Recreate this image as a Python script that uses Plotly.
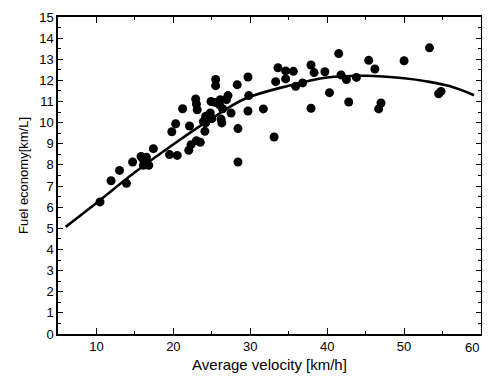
import plotly.graph_objects as go

velocity = [10.46, 11.9, 13.0, 13.9, 14.7, 15.8, 16.1, 16.5, 16.8, 17.4,
            19.5, 20.5, 19.8, 20.3, 21.2, 22.1, 22.0, 22.3, 23.0, 23.5,
            22.9, 23.0, 23.1, 24.1, 24.2, 24.8, 25.0, 24.9, 25.4, 25.5,
            25.5, 26.1, 26.2, 26.3, 26.4, 27.1, 26.9, 27.5, 28.3, 28.4,
            28.4, 29.7, 29.8, 29.7, 31.7, 33.1, 33.3, 33.6, 34.6, 34.6,
            35.6, 35.9, 36.8, 37.9, 38.3, 37.9, 39.7, 40.3, 41.5, 41.8,
            42.5, 42.8, 43.8, 45.4, 46.2, 46.7, 47.0, 50.0, 53.3, 54.5,
            54.8, 26.0, 24.2, 23.9, 16.0]
economy = [6.25, 7.25, 7.74, 7.13, 8.14, 8.4, 7.98, 8.36, 7.98, 8.77,
           8.49, 8.45, 9.57, 9.95, 10.66, 9.84, 8.69, 8.96, 9.15, 9.07,
           11.12, 10.88, 10.61, 9.59, 9.99, 10.46, 10.19, 11.0, 10.96, 12.04,
           11.75, 11.09, 10.17, 9.99, 10.66, 11.28, 11.09, 10.46, 11.8, 9.72,
           8.14, 12.16, 11.28, 10.55, 10.65, 9.32, 11.94, 12.6, 12.07, 12.45,
           12.43, 11.72, 11.88, 12.73, 12.37, 10.68, 12.41, 11.42, 13.27, 12.26,
           12.04, 10.98, 12.14, 12.95, 12.54, 10.65, 10.93, 12.93, 13.54, 11.37,
           11.48, 10.85, 10.3, 10.05, 8.3]

fit_x = [6.0, 10.0, 15.0, 20.3, 25.0, 29.3, 35.0, 40.0, 45.0, 50.0, 53.0, 56.0, 59.1]
fit_y = [5.07, 6.2, 7.65, 9.05, 10.2, 11.13, 11.75, 12.14, 12.22, 12.1, 11.95, 11.72, 11.3]

x_ticks = [10, 20, 30, 40, 50, 60]
x_ticklabels = ["10", "20", "30", "40", "50", ""]
y_ticks = list(range(0, 16))

fig = go.Figure()
fig.add_trace(go.Scatter(x=fit_x, y=fit_y, mode="lines",
                         line=dict(color="black", width=2.6, shape="spline", smoothing=1.0),
                         showlegend=False))
fig.add_trace(go.Scatter(x=velocity, y=economy, mode="markers",
                         marker=dict(color="black", size=9, line=dict(width=0)),
                         showlegend=False))

font = dict(family="Liberation Sans, Arial, sans-serif", color="black")
fig.update_layout(
    width=474, height=365,
    margin=dict(l=50, r=1, t=9, b=39),
    paper_bgcolor="white", plot_bgcolor="white",
    font=dict(**font, size=13),
    xaxis=dict(range=[5, 60], tickvals=x_ticks, ticktext=x_ticklabels, automargin=False,
               ticks="inside", ticklen=6, tickwidth=1.2, tickcolor="black",
               minor=dict(tickvals=[15, 25, 35, 45, 55], ticks="inside", ticklen=3, tickcolor="black"),
               showline=True, linecolor="black", linewidth=1.5, mirror="ticks",
               showgrid=False, zeroline=False,
               title=dict(text="Average velocity [km/h]", font=dict(size=15), standoff=7)),
    yaxis=dict(range=[0, 15], tickvals=y_ticks, automargin=False,
               ticks="inside", ticklen=5, tickwidth=1.2, tickcolor="black",
               minor=dict(dtick=0.5, ticks="inside", ticklen=3, tickcolor="black"),
               showline=True, linecolor="black", linewidth=1.5, mirror="ticks",
               showgrid=False, zeroline=False,
               title=dict(text="Fuel economy[km/L]", font=dict(size=13), standoff=8)),
    annotations=[dict(x=60, y=0, xref="x", yref="y", text="60", showarrow=False,
                      xanchor="right", yanchor="top", yshift=-4, font=dict(size=13))],
)
fig.write_html("out.html")
